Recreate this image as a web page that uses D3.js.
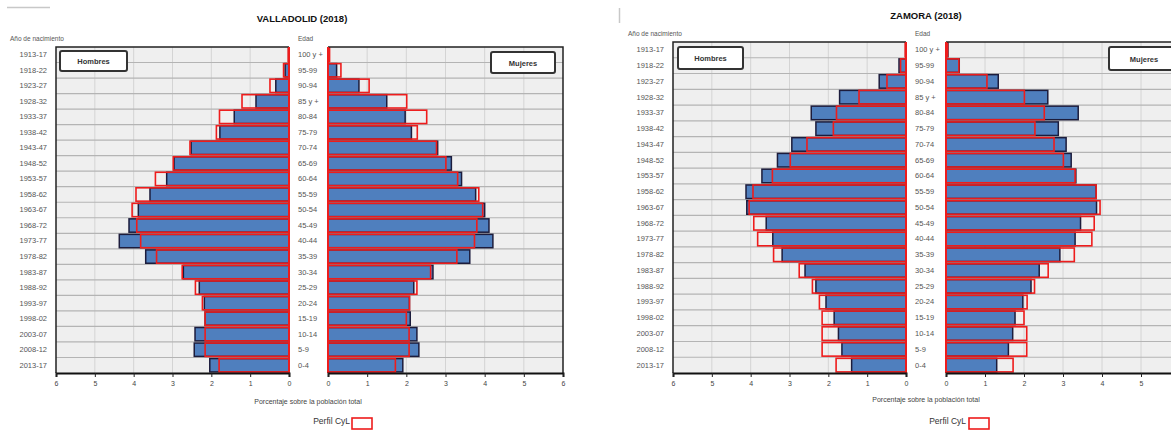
<!DOCTYPE html>
<html>
<head>
<meta charset="utf-8">
<script src="https://cdn.jsdelivr.net/npm/d3@7"></script>
<style>
  html, body { margin: 0; padding: 0; background: #ffffff; }
  svg { display: block; font-family: "Liberation Sans", Arial, sans-serif; }
</style>
</head>
<body>
<svg id="chart" width="1171" height="430"></svg>
<script>
// ---------- DATA ----------
const ageGroups = ["100 y +", "95-99", "90-94", "85 y +", "80-84", "75-79", "70-74", "65-69", "60-64",
  "55-59", "50-54", "45-49", "40-44", "35-39", "30-34", "25-29", "20-24", "15-19", "10-14", "5-9", "0-4"];
const birthYears = ["1913-17", "1918-22", "1923-27", "1928-32", "1933-37", "1938-42", "1943-47", "1948-52",
  "1953-57", "1958-62", "1963-67", "1968-72", "1973-77", "1978-82", "1983-87", "1988-92", "1993-97",
  "1998-02", "2003-07", "2008-12", "2013-17"];
const xTicks = [0, 1, 2, 3, 4, 5, 6];

// Castilla y León profile (red outline), % of total population
const cylMen   = [0.02, 0.14, 0.49, 1.21, 1.79, 1.87, 2.55, 2.98, 3.44, 3.94, 4.04, 3.92, 3.82, 3.41, 2.75, 2.41, 2.23, 2.16, 2.16, 2.16, 1.80];
const cylWomen = [0.04, 0.33, 1.05, 2.01, 2.52, 2.28, 2.77, 3.01, 3.31, 3.85, 3.95, 3.80, 3.74, 3.29, 2.62, 2.27, 2.08, 2.00, 2.07, 2.07, 1.72];

// Valladolid (2018)
const valladolidMen   = [0.01, 0.10, 0.34, 0.85, 1.41, 1.78, 2.52, 2.96, 3.15, 3.58, 3.88, 4.12, 4.37, 3.69, 2.72, 2.31, 2.18, 2.16, 2.42, 2.44, 2.04];
const valladolidWomen = [0.03, 0.22, 0.79, 1.50, 1.97, 2.13, 2.80, 3.15, 3.41, 3.77, 4.00, 4.11, 4.21, 3.62, 2.68, 2.19, 2.08, 2.10, 2.27, 2.32, 1.91];

// Zamora (2018)
const zamoraMen   = [0.01, 0.18, 0.69, 1.71, 2.44, 2.32, 2.94, 3.31, 3.71, 4.12, 4.10, 3.60, 3.43, 3.19, 2.60, 2.32, 2.06, 1.85, 1.74, 1.65, 1.40];
const zamoraWomen = [0.05, 0.34, 1.34, 2.61, 3.39, 2.88, 3.08, 3.21, 3.33, 3.85, 3.86, 3.45, 3.31, 2.92, 2.39, 2.18, 1.97, 1.77, 1.71, 1.60, 1.30];

const titles = ["VALLADOLID (2018)", "ZAMORA (2018)"];

// ---------- LAYOUT ----------
const layouts = [
  { title: titles[0], men: valladolidMen, women: valladolidWomen,
    lx0: 56, lx1: 289, rx0: 328, rx1: 563, top: 47, bottom: 373,
    titleX: 302, titleY: 22, yearLabelX: 47, ageLabelX: 298, headY: 41, anioX: 10, edadX: 298,
    axisLabelX: 308, axisLabelY: 404, legendTextX: 350, legendY: 424, legendBoxX: 352,
    hBox: [60, 51, 67, 20], mBox: [491, 52, 64, 21], showRight: true },
  { title: titles[1], men: zamoraMen, women: zamoraWomen,
    lx0: 673, lx1: 906, rx0: 946, rx1: 1180, top: 42, bottom: 373,
    titleX: 926, titleY: 19, yearLabelX: 664, ageLabelX: 915, headY: 36, anioX: 628, edadX: 915,
    axisLabelX: 926, axisLabelY: 402, legendTextX: 966, legendY: 424, legendBoxX: 969,
    hBox: [678, 47, 65, 22], mBox: [1109, 47, 70, 23], showRight: false }
];

const svg = d3.select("#chart");
const W = 1171;
const BLUE = "#4f7fbe", NAVY = "#1c1c3c", RED = "#ee1c1c", BG = "#efefef";

// small artifacts in the reference
svg.append("line").attr("x1", 7).attr("x2", 50).attr("y1", 7.5).attr("y2", 7.5).attr("stroke", "#c8c8c8").attr("stroke-width", 1.5);
svg.append("line").attr("x1", 619.5).attr("x2", 619.5).attr("y1", 8).attr("y2", 23).attr("stroke", "#c8c8c8").attr("stroke-width", 1.5);

layouts.forEach(L => {
  const g = svg.append("g");
  const y = d3.scaleBand().domain(ageGroups).range([L.top, L.bottom]).paddingInner(0.14).paddingOuter(0.07);
  const yRow = d3.scaleBand().domain(ageGroups).range([L.top, L.bottom]);
  const xL = d3.scaleLinear().domain([0, 6]).range([L.lx1, L.lx0]);
  const xR = d3.scaleLinear().domain([0, 6]).range([L.rx0, L.rx1]);

  // title
  g.append("text").attr("x", L.titleX).attr("y", L.titleY).attr("text-anchor", "middle")
    .attr("font-size", 9.5).attr("font-weight", "bold").attr("fill", "#111").text(L.title);
  g.append("text").attr("x", L.anioX).attr("y", L.headY).attr("font-size", 6.5).attr("fill", "#555").text("Año de nacimiento");
  g.append("text").attr("x", L.edadX).attr("y", L.headY).attr("font-size", 6.5).attr("fill", "#555").text("Edad");

  [[xL, L.lx0, L.lx1], [xR, L.rx0, L.rx1]].forEach(([x, a, b]) => {
    g.append("rect").attr("x", a).attr("y", L.top).attr("width", b - a).attr("height", L.bottom - L.top).attr("fill", BG);
    // vertical grid
    g.selectAll(null).data(xTicks.slice(1, 6)).enter().append("line")
      .attr("x1", d => x(d)).attr("x2", d => x(d)).attr("y1", L.top).attr("y2", L.bottom)
      .attr("stroke", "#d4d4d4").attr("stroke-width", 1);
    // horizontal grid at row boundaries
    g.selectAll(null).data(ageGroups.slice(1)).enter().append("line")
      .attr("x1", a).attr("x2", b).attr("y1", d => yRow(d)).attr("y2", d => yRow(d))
      .attr("stroke", "#b4b4b4").attr("stroke-width", 1.2);
  });

  // bars
  const drawBars = (x, vals, cyl) => {
    g.selectAll(null).data(ageGroups).enter().append("rect")
      .attr("x", (d, i) => Math.min(x(0), x(vals[i])))
      .attr("y", d => y(d)).attr("height", y.bandwidth())
      .attr("width", (d, i) => Math.abs(x(vals[i]) - x(0)))
      .attr("fill", BLUE).attr("stroke", NAVY).attr("stroke-width", 1.5);
    g.selectAll(null).data(ageGroups).enter().append("rect")
      .attr("x", (d, i) => Math.min(x(0), x(cyl[i])))
      .attr("y", d => y(d)).attr("height", y.bandwidth())
      .attr("width", (d, i) => Math.abs(x(cyl[i]) - x(0)))
      .attr("fill", "none").attr("stroke", RED).attr("stroke-width", 1.6);
  };
  drawBars(xL, L.men, cylMen);
  drawBars(xR, L.women, cylWomen);

  // frames
  g.append("path").attr("d", `M${L.lx1},${L.top}H${L.lx0}V${L.bottom}`).attr("fill", "none").attr("stroke", "#222").attr("stroke-width", 1.5);
  g.append("line").attr("x1", L.lx1).attr("x2", L.lx1).attr("y1", L.top).attr("y2", L.bottom).attr("stroke", RED).attr("stroke-width", 2);
  g.append("path").attr("d", `M${L.rx0},${L.top}H${L.rx1}` + (L.showRight ? `V${L.bottom}` : "")).attr("fill", "none").attr("stroke", "#222").attr("stroke-width", 1.5);
  g.append("line").attr("x1", L.rx0).attr("x2", L.rx0).attr("y1", L.top).attr("y2", L.bottom).attr("stroke", RED).attr("stroke-width", 2);

  // x axes (only ticks that fall inside the picture)
  [xL, xR].forEach(x => {
    const vis = xTicks.filter(d => x(d) <= W - 6);
    const ax = d3.axisBottom(x).tickValues(vis).tickSize(4).tickFormat(d3.format("d"));
    const a = g.append("g").attr("transform", `translate(0,${L.bottom})`).call(ax);
    a.select(".domain").attr("stroke", "#111").attr("stroke-width", 2);
    a.selectAll(".tick line").attr("stroke", "#222");
    a.selectAll(".tick text").attr("font-size", 7).attr("fill", "#444").attr("dy", "0.9em")
      .attr("font-family", "Liberation Sans, Arial, sans-serif");
  });

  // y labels
  const ayL = d3.axisLeft(yRow).tickSize(0).tickFormat((d, i) => birthYears[i]);
  const a1 = g.append("g").attr("transform", `translate(${L.yearLabelX},0)`).call(ayL);
  a1.select(".domain").remove();
  a1.selectAll(".tick text").attr("x", 0).attr("font-size", 7.5).attr("fill", "#555")
    .attr("font-family", "Liberation Sans, Arial, sans-serif");
  const ayR = d3.axisRight(yRow).tickSize(0);
  const a2 = g.append("g").attr("transform", `translate(${L.ageLabelX},0)`).call(ayR);
  a2.select(".domain").remove();
  a2.selectAll(".tick text").attr("x", 0).attr("font-size", 7.5).attr("fill", "#555")
    .attr("font-family", "Liberation Sans, Arial, sans-serif");

  // Hombres / Mujeres boxes
  [[L.hBox, "Hombres"], [L.mBox, "Mujeres"]].forEach(([b, t]) => {
    g.append("rect").attr("x", b[0]).attr("y", b[1]).attr("width", b[2]).attr("height", b[3])
      .attr("rx", 2).attr("fill", "#fff").attr("stroke", "#333").attr("stroke-width", 2);
    g.append("text").attr("x", b[0] + b[2] / 2).attr("y", b[1] + b[3] / 2 + 3).attr("text-anchor", "middle")
      .attr("font-size", 7.5).attr("font-weight", "bold").attr("fill", "#333").text(t);
  });

  // axis title
  g.append("text").attr("x", L.axisLabelX).attr("y", L.axisLabelY).attr("text-anchor", "middle")
    .attr("font-size", 7).attr("fill", "#444").text("Porcentaje sobre la población total");

  // legend
  g.append("text").attr("x", L.legendTextX).attr("y", L.legendY).attr("text-anchor", "end")
    .attr("font-size", 8.5).attr("fill", "#333").text("Perfil CyL");
  g.append("rect").attr("x", L.legendBoxX).attr("y", L.legendY - 6).attr("width", 20).attr("height", 11)
    .attr("fill", "#fff").attr("stroke", RED).attr("stroke-width", 1.6);
});
</script>
</body>
</html>
